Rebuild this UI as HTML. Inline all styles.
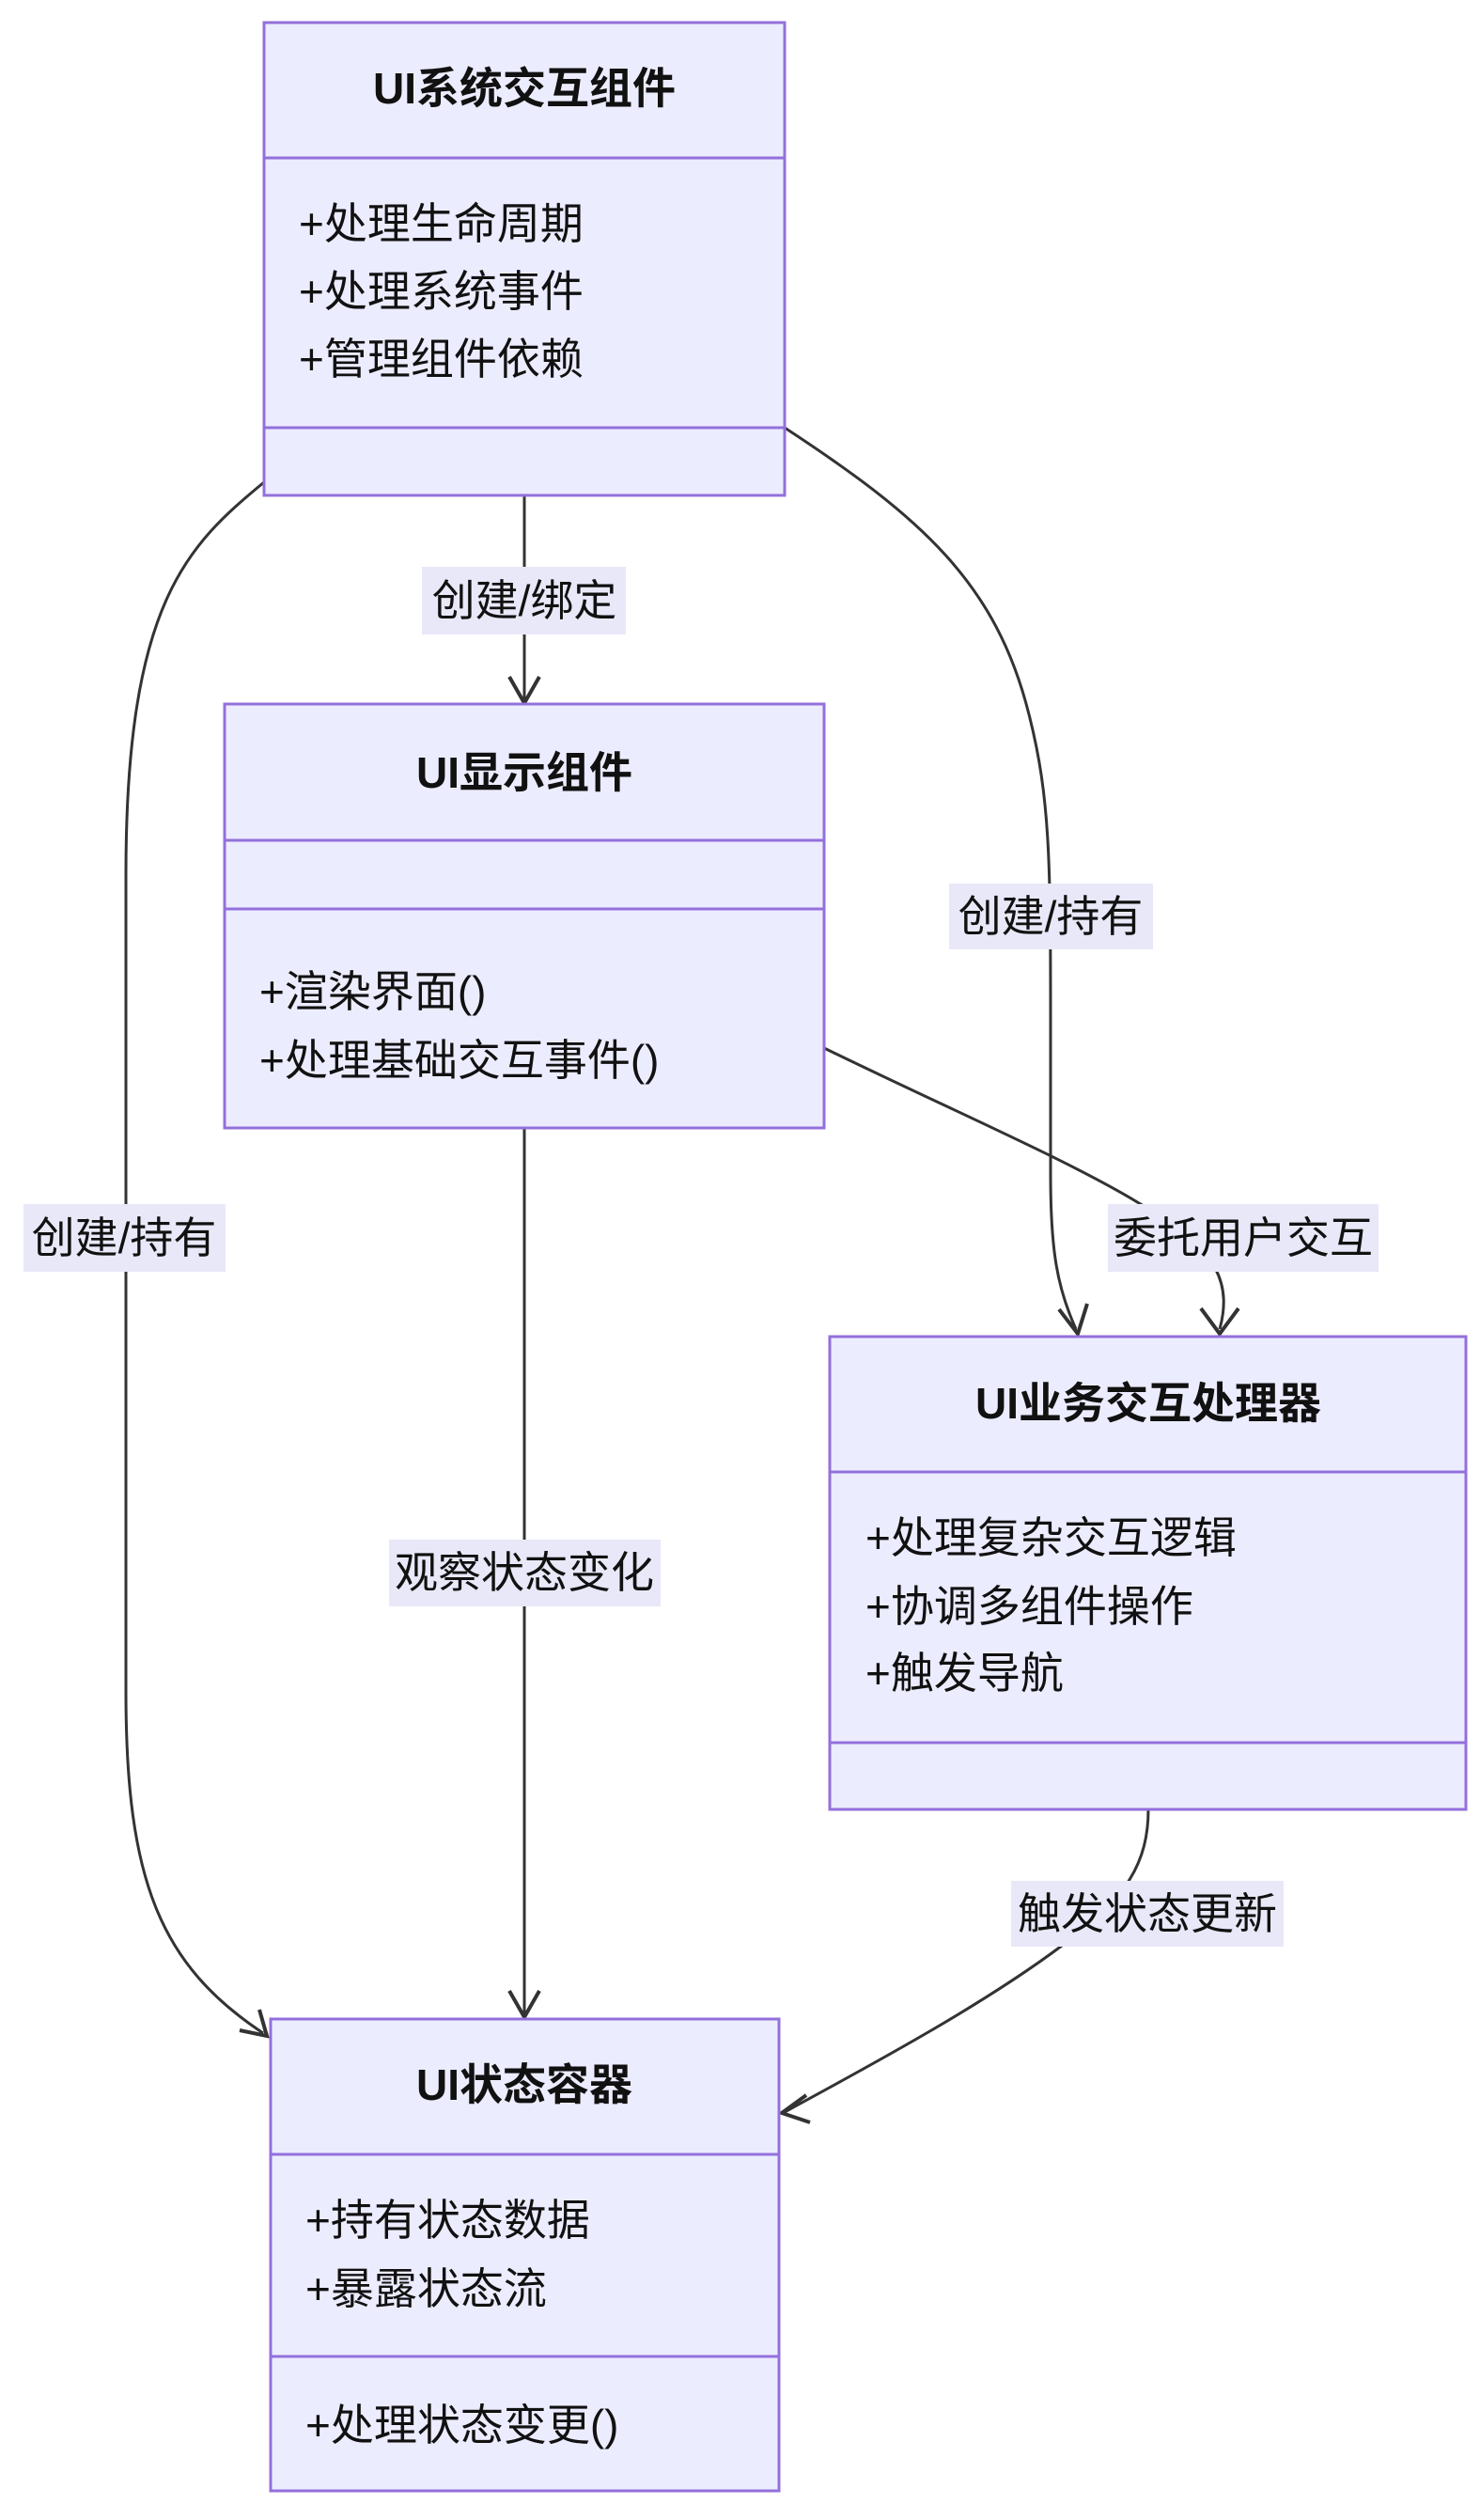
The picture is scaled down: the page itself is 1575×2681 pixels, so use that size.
<!DOCTYPE html>
<html><head><meta charset="utf-8"><style>
html,body{margin:0;padding:0;background:#fff}
svg text{font-family:"Liberation Sans","Noto Sans CJK SC",sans-serif;fill:#111}
</style></head><body>
<svg width="1575" height="2676" viewBox="0 0 1575 2676" xmlns="http://www.w3.org/2000/svg">
<defs>
<marker id="a" viewBox="0 0 12 12" refX="11" refY="6" markerWidth="12" markerHeight="12" markerUnits="userSpaceOnUse" orient="auto">
</marker>
</defs>
<g fill="none" stroke="#333" stroke-width="3">
<path d="M558 527 L558 745"/>
<path d="M281 513 C200 580 134 640 134 930 L134 1800 C134 2000 170 2090 280 2163"/>
<path d="M835 455 C980 550 1060 620 1095 760 C1118 850 1118 920 1118 1100 L1118 1250 C1118 1330 1125 1370 1145 1414"/>
<path d="M877 1115 C1010 1180 1150 1240 1220 1285 C1300 1330 1310 1370 1298 1414"/>
<path d="M558 1200 L558 2144"/>
<path d="M1222 1925 C1222 1980 1200 2020 1130 2070 C1050 2130 940 2190 835 2247"/>
</g>
<g fill="none" stroke="#333" stroke-width="4" stroke-linejoin="miter">
<path d="M542 720 L558 748 L574 720"/>
<path d="M542 2118 L558 2146 L574 2118"/>
<path d="M255 2160 L284 2166 L276 2138"/>
<path d="M1127 1393 L1147 1419 L1157 1387"/>
<path d="M1278 1392 L1298 1419 L1318 1392"/>
<path d="M858 2229 L832 2248 L862 2258"/>
</g>
<g fill="#ECECFF" stroke="#9370DB" stroke-width="3">
<rect x="281" y="24" width="554" height="503"/>
<line x1="281" y1="168" x2="835" y2="168"/><line x1="281" y1="455" x2="835" y2="455"/>
<rect x="239" y="749" width="638" height="451"/>
<line x1="239" y1="894" x2="877" y2="894"/><line x1="239" y1="967" x2="877" y2="967"/>
<rect x="883" y="1422" width="677" height="503"/>
<line x1="883" y1="1566" x2="1560" y2="1566"/><line x1="883" y1="1854" x2="1560" y2="1854"/>
<rect x="288" y="2148" width="541" height="502"/>
<line x1="288" y1="2292" x2="829" y2="2292"/><line x1="288" y1="2507" x2="829" y2="2507"/>
</g>
<g fill="#e8e8f8">
<rect x="449" y="603" width="217" height="72"/>
<rect x="25" y="1281" width="215" height="72"/>
<rect x="1010" y="940" width="217" height="70"/>
<rect x="1179" y="1281" width="288" height="72"/>
<rect x="414" y="1638" width="289" height="71"/>
<rect x="1076" y="2001" width="290" height="70"/>
</g>
<g font-size="46" font-weight="bold" text-anchor="middle" dominant-baseline="central">
<text x="558" y="94">UI系统交互组件</text>
<text x="558" y="822">UI显示组件</text>
<text x="1222" y="1493">UI业务交互处理器</text>
<text x="558" y="2218">UI状态容器</text>
</g>
<g font-size="46" dominant-baseline="central">
<text x="318" y="238">+处理生命周期</text>
<text x="318" y="310">+处理系统事件</text>
<text x="318" y="382">+管理组件依赖</text>
<text x="276" y="1055">+渲染界面()</text>
<text x="276" y="1128">+处理基础交互事件()</text>
<text x="921" y="1636">+处理复杂交互逻辑</text>
<text x="921" y="1709">+协调多组件操作</text>
<text x="921" y="1780">+触发导航</text>
<text x="325" y="2362">+持有状态数据</text>
<text x="325" y="2435">+暴露状态流</text>
<text x="325" y="2580">+处理状态变更()</text>
</g>
<g font-size="46" text-anchor="middle" dominant-baseline="central">
<text x="558" y="639">创建/绑定</text>
<text x="132" y="1317">创建/持有</text>
<text x="1118" y="975">创建/持有</text>
<text x="1323" y="1317">委托用户交互</text>
<text x="558" y="1673">观察状态变化</text>
<text x="1221" y="2036">触发状态更新</text>
</g>
</svg>
</body></html>
